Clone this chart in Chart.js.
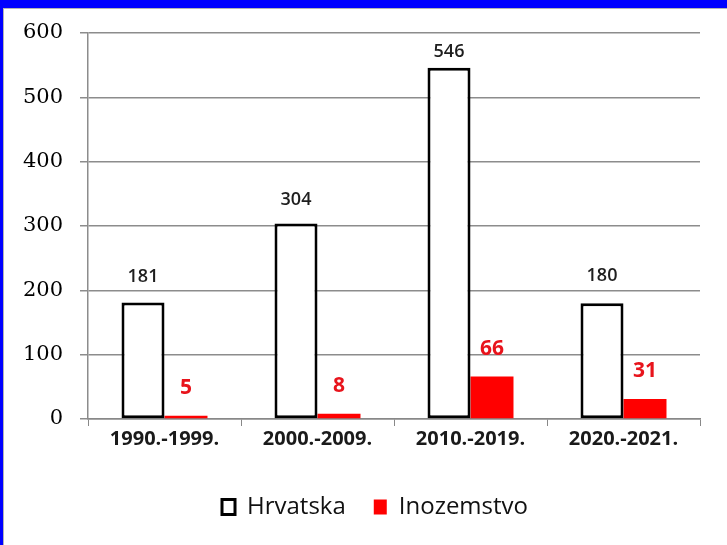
<!doctype html>
<html lang="en">
<head>
  <meta charset="utf-8">
  <title>Hrvatska / Inozemstvo</title>
  <script src="https://cdn.jsdelivr.net/npm/chart.js"></script>
  <style>
    html, body { margin: 0; padding: 0; background: #0000ff; }
    #frame {
      position: absolute; left: 3px; top: 8px;
      width: 724px; height: 537px;
      box-sizing: border-box;
      background: #ffffff;
      border-top: 1px solid #b4b4b4;
      border-left: 1px solid #b4b4b4;
    }
  </style>
</head>
<body>
  <div id="frame">
    <canvas id="chart"></canvas>
  </div>
  <script>
    // data
    var periods = ['1990.-1999.', '2000.-2009.', '2010.-2019.', '2020.-2021.'];
    var hrvatska = [181, 304, 546, 180];
    var inozemstvo = [5, 8, 66, 31];
    var yTicks = [0, 100, 200, 300, 400, 500, 600];

    // how far above each bar top the value sits (px), per dataset
    var labelLift = [[26, 24, 16, 27], [28, 28, 28, 28]];

    var valueLabels = {
      id: 'valueLabels',
      afterDatasetsDraw: function(chart) {
        var ctx = chart.ctx;
        ctx.save();
        ctx.textAlign = 'center';
        ctx.textBaseline = 'middle';
        chart.data.datasets.forEach(function(ds, i) {
          var meta = chart.getDatasetMeta(i);
          if (i == 0) {
            ctx.fillStyle = '#1e1e1e';
            ctx.font = '600 18px "Open Sans"';
          } else {
            ctx.fillStyle = '#e8141c';
            ctx.font = 'bold 21px "Open Sans"';
          }
          meta.data.forEach(function(bar, j) {
            ctx.fillText(ds.data[j], bar.x, bar.y - labelLift[i][j]);
          });
        });
        ctx.restore();
      }
    };

    // the legend in the picture sits a bit right of the canvas centre
    var legendShift = {
      id: 'legendShift',
      afterLayout: function(chart) {
        chart.legend.left += 23;
        chart.legend.right += 23;
      }
    };

    var chart = new Chart(document.getElementById('chart'), {
      type: 'bar',
      data: {
        labels: periods,
        datasets: [
          {
            label: 'Hrvatska',
            data: hrvatska,
            backgroundColor: '#ffffff',
            borderColor: '#000000',
            borderWidth: 3,
            borderSkipped: false
          },
          {
            label: 'Inozemstvo',
            data: inozemstvo,
            backgroundColor: '#ff0000',
            borderWidth: 0
          }
        ]
      },
      options: {
        responsive: true,
        maintainAspectRatio: false,
        animation: false,
        datasets: { bar: { categoryPercentage: 0.562, barPercentage: 1.0 } },
        layout: { padding: { left: 0, right: 27, top: 24, bottom: 16 } },
        scales: {
          x: {
            grid: { drawOnChartArea: false, drawTicks: true, tickLength: 7, color: '#888888', lineWidth: 1 },
            border: { color: '#888888', width: 1.5 },
            ticks: { color: '#1a1a1a', font: { family: 'Open Sans', size: 20, weight: 'bold' }, padding: 1 },
            afterFit: function(scale) { scale.height = 48; }
          },
          y: {
            min: 0,
            max: 600,
            afterBuildTicks: function(scale) { scale.ticks = yTicks.map(function(v) { return { value: v }; }); },
            grid: { color: '#8c8c8c', lineWidth: 1.5, tickLength: 8 },
            border: { color: '#8c8c8c', width: 1.5 },
            ticks: { color: '#000000', font: { family: 'DejaVu Serif', size: 21 }, padding: 17 },
            afterFit: function(scale) {
              scale.width = 84;
              scale.paddingTop = 0;
              scale.paddingBottom = 0;
            }
          }
        },
        plugins: {
          legend: {
            position: 'bottom',
            labels: {
              color: '#111111',
              font: { family: 'Open Sans', size: 24 },
              boxWidth: 13,
              boxHeight: 15,
              padding: 28
            }
          },
          tooltip: { enabled: false },
          title: { display: false }
        }
      },
      plugins: [valueLabels, legendShift]
    });
  </script>
</body>
</html>
